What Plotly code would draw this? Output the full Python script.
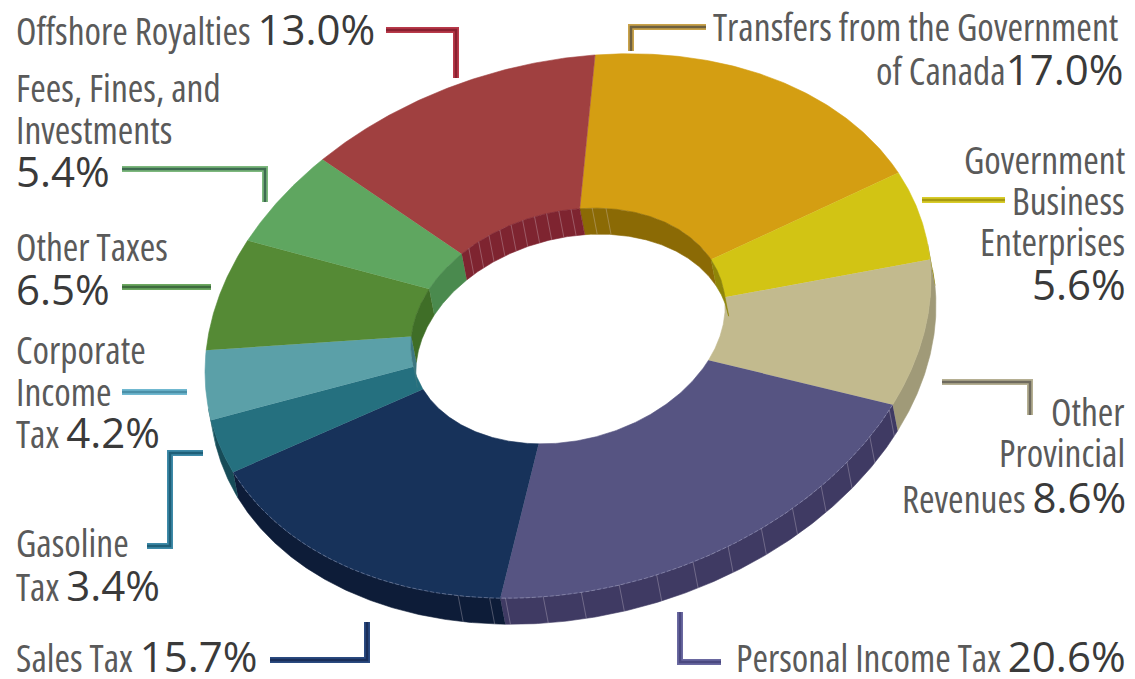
import numpy as np
import plotly.graph_objects as go

# ---- data ----
categories = ["Transfers from the Government of Canada", "Government Business Enterprises",
              "Other Provincial Revenues", "Personal Income Tax", "Sales Tax", "Gasoline Tax",
              "Corporate Income Tax", "Other Taxes", "Fees, Fines, and Investments", "Offshore Royalties"]
values = [17.0, 5.6, 8.6, 20.6, 15.7, 3.4, 4.2, 6.5, 5.4, 13.0]
top_colors = ["#D49E12", "#D2C414", "#C2BA8E", "#565482", "#17325A",
              "#25707F", "#5BA0A8", "#558A35", "#5FA660", "#A04040"]
wall_colors = ["#8B6A05", "#8F8508", "#A09A78", "#3F3A63", "#0D1C38",
               "#174C58", "#3E7880", "#3F6E27", "#4A8A4E", "#7E2430"]
line_light = ["#C9A24A", "#D8CC2A", "#B5AF92", "#6A68A0", "#2A4A80",
              "#3E8AA8", "#70B8D0", "#6DA860", "#7DB87D", "#B83A4A"]
line_dark = ["#6E6040", "#A89A10", "#6E6A5E", "#4A4880", "#1A2F5A",
             "#1E5F78", "#4A90A8", "#3E6B3E", "#3E6B50", "#8A2030"]

# ---- projection of the disc (pixels) ----
CENTER = np.array([568.0, 326.0])
U = np.array([27.0, -271.0])
V = np.array([362.0, -26.0])
HOLE = 0.433
DEPTH = np.array([5.0, 26.0])
W = np.linalg.solve(np.column_stack([U, V]), DEPTH)

def arc(t, k=1.0):
    return CENTER + k * (np.outer(np.cos(t), U) + np.outer(np.sin(t), V))

def facing(t):
    return np.cos(t) * W[0] + np.sin(t) * W[1]

fig = go.Figure()

def poly(pts, color, line_color=None, width=0.6):
    fig.add_trace(go.Scatter(x=pts[:, 0], y=pts[:, 1], mode="lines", fill="toself", fillcolor=color,
                             line=dict(color=line_color or color, width=width),
                             hoverinfo="skip", showlegend=False))

def stroke(pts, color, width, dash=None):
    fig.add_trace(go.Scatter(x=[p[0] for p in pts], y=[p[1] for p in pts], mode="lines",
                             line=dict(color=color, width=width, dash=dash),
                             hoverinfo="skip", showlegend=False))

edges = np.concatenate([[0], np.cumsum(values)]) / sum(values) * 2 * np.pi
spans = list(zip(edges[:-1], edges[1:]))

# outer wall
for (a, b), col in zip(spans, wall_colors):
    t = np.linspace(a, b, 160)
    t = t[facing(t) > 0]
    if len(t) > 1:
        p = arc(t)
        poly(np.vstack([p, (p + DEPTH)[::-1]]), col)

# top surface
for (a, b), col in zip(spans, top_colors):
    t = np.linspace(a, b, 120)
    poly(np.vstack([arc(t), arc(t[::-1], HOLE)]), col)

# inner wall
for (a, b), col in zip(spans, wall_colors):
    t = np.linspace(a, b, 120)
    t = t[facing(t) < 0]
    if len(t) > 1:
        p = arc(t, HOLE)
        poly(np.vstack([p, (p + DEPTH)[::-1]]), col)

# wall hatching and rim (outer: Personal Income Tax, inner: Offshore Royalties)
HATCH = "rgba(225,215,225,0.3)"
a, b = spans[3]
for t in np.arange(a + 0.02, b, 0.105):
    if facing(t) > 0:
        p = arc(np.array([t]))[0]
        stroke([p, p + DEPTH], HATCH, 1)
a, b = spans[4]
for t in (a + 0.03, a + 0.12):
    p = arc(np.array([t]))[0]
    stroke([p, p + DEPTH], HATCH, 1)
a, b = spans[9]
for t in np.arange(a + 0.06, b, 0.078):
    if facing(t) < 0:
        p = arc(np.array([t]), HOLE)[0]
        stroke([p, p + DEPTH], HATCH, 1)
a, b = spans[0]
for t in (a + 0.08, a + 0.17):
    p = arc(np.array([t]), HOLE)[0]
    stroke([p, p + DEPTH], HATCH, 1)
a, b = spans[3][0], spans[4][1]
t = np.linspace(a, b, 240)
t = t[facing(t) > 0]
stroke(arc(t), "rgba(200,200,225,0.35)", 1, "4px,2px")

# leader lines
leaders = {
    9: [(386, 30), (456, 30), (456, 78)],
    0: [(631, 51), (631, 27), (706, 27)],
    1: [(922, 200), (1005, 200)],
    2: [(942, 382), (1030, 382), (1030, 415)],
    3: [(680, 612), (680, 662), (721, 662)],
    4: [(270, 660), (367, 660), (367, 622)],
    5: [(147, 546), (170, 546), (170, 453), (203, 453)],
    6: [(122, 392), (187, 392)],
    7: [(122, 287), (211, 287)],
    8: [(122, 169), (265, 169), (265, 202)],
}
for i, pts in leaders.items():
    stroke(pts, line_light[i], 6)
    stroke(pts, line_dark[i], 2.5)

# ---- labels ----
LABEL = "Open Sans"
PCT = "Open Sans"
LS, PS = 37.5, 42
TXT, PTXT = "#5a5a5a", "#3a3a3a"

def name(s):
    return f'<span style="font-stretch:75%">{s}</span>'

def pct(i):
    return f'<span style="font-family:{PCT};font-size:{PS}px;color:{PTXT}">{values[i]:.1f}%</span>'

label_lines = [
    ("left", 15, 28, name("Offshore Royalties ") + pct(9)),
    ("left", 15, 87, name("Fees, Fines, and")),
    ("left", 15, 129, name("Investments")),
    ("left", 15, 170, pct(8)),
    ("left", 15, 246, name("Other Taxes")),
    ("left", 15, 288, pct(7)),
    ("left", 15, 349, name("Corporate")),
    ("left", 15, 391, name("Income")),
    ("left", 15, 431, name("Tax ") + pct(6)),
    ("left", 15, 542, name("Gasoline")),
    ("left", 15, 584, name("Tax ") + pct(5)),
    ("left", 15, 655, name("Sales Tax ") + pct(4)),
    ("right", 1119, 26, name("Transfers from the Government")),
    ("right", 1124, 68, name("of Canada") + pct(0)),
    ("right", 1126, 159, name("Government")),
    ("right", 1126, 200, name("Business")),
    ("right", 1126, 241, name("Enterprises")),
    ("right", 1127, 283, pct(1)),
    ("right", 1126, 411, name("Other")),
    ("right", 1126, 452, name("Provincial")),
    ("right", 1127, 496, name("Revenues ") + pct(2)),
    ("right", 1127, 655, name("Personal Income Tax ") + pct(3)),
]
annotations = [dict(x=x, y=y, xref="x", yref="y", text=s, showarrow=False, xanchor=anc, yanchor="middle",
                    align=anc, font=dict(family=LABEL, size=LS, color=TXT), borderpad=0)
               for anc, x, y, s in label_lines]

fig.update_layout(
    width=1135, height=679, autosize=False, margin=dict(l=0, r=0, t=0, b=0),
    paper_bgcolor="white", plot_bgcolor="white", showlegend=False, annotations=annotations,
    xaxis=dict(range=[0, 1135], visible=False, fixedrange=True),
    yaxis=dict(range=[679, 0], visible=False, fixedrange=True),
)
fig.write_html("out.html", config={"displayModeBar": False},
               post_script="document.body.style.margin='0';document.documentElement.style.overflow='hidden';")
